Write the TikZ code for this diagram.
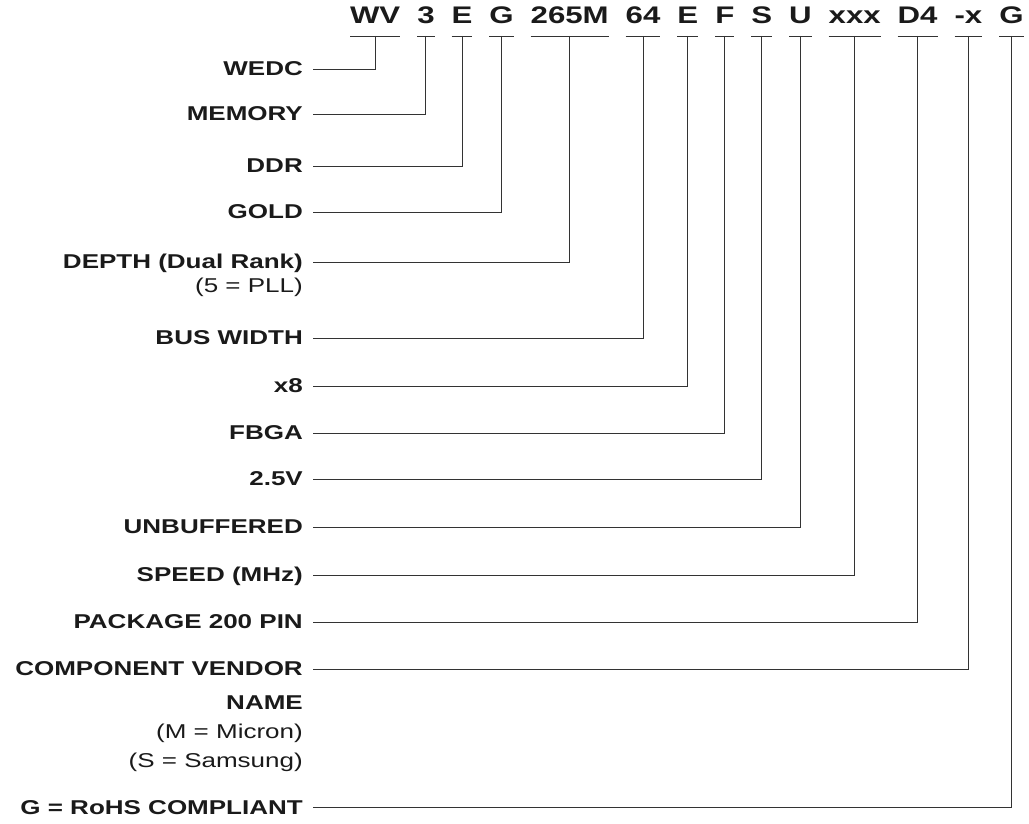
\documentclass[tikz,border=0pt]{standalone}
\usepackage{fontspec}
\setmainfont{Liberation Sans}[FakeStretch=1.3]
\usepackage{tikz}
\usetikzlibrary{positioning}
\definecolor{ink}{HTML}{1A1A1A}
\definecolor{wire}{HTML}{333333}

\begin{document}
\begin{tikzpicture}[
  x=1pt,y=1pt,
  node distance=17pt,
  code/.style={font=\fontsize{24}{28}\selectfont\bfseries,text=ink,inner xsep=0pt,inner ysep=12pt,outer sep=0pt,text height=17pt,text depth=0pt},
  field/.style={font=\fontsize{20}{24}\selectfont\bfseries,text=ink,anchor=east,inner xsep=10pt,inner ysep=0pt,text height=14pt,text depth=0pt},
  note/.style={font=\fontsize{20}{29}\selectfont,text=ink,align=right,inner xsep=10pt,inner ysep=0pt},
  link/.style={draw=wire,line width=0.9pt}
]
\useasboundingbox (0,0) rectangle (1029,823);
% part number
\node[code,anchor=base west] (wv) at (350,799) {WV};
\node[code,right=of wv] (three) {3};
\node[code,right=of three] (ecode) {E};
\node[code,right=of ecode] (gcode) {G};
\node[code,right=of gcode] (m265) {265M};
\node[code,right=of m265] (sixfour) {64};
\node[code,right=of sixfour] (eight) {E};
\node[code,right=of eight] (fcode) {F};
\node[code,right=of fcode] (scode) {S};
\node[code,right=of scode] (ucode) {U};
\node[code,right=of ucode] (xxx) {xxx};
\node[code,right=of xxx] (dfour) {D4};
\node[code,right=of dfour] (dashx) {-x};
\node[code,right=of dashx] (rohscode) {G};
% field names
\node[field] (wedc) at (313,754) {WEDC};
\node[field] (memory) at (313,709) {MEMORY};
\node[field] (ddr) at (313,657) {DDR};
\node[field] (gold) at (313,611) {GOLD};
\node[field] (depth) at (313,561) {DEPTH (Dual Rank)};
\node[note,below=9pt of depth.south east,anchor=north east] (pll) {(5 = PLL)};
\node[field] (buswidth) at (313,485) {BUS WIDTH};
\node[field] (xeight) at (313,437) {x8};
\node[field] (fbga) at (313,390) {FBGA};
\node[field] (volts) at (313,344) {2.5V};
\node[field] (unbuffered) at (313,296) {UNBUFFERED};
\node[field] (speed) at (313,248) {SPEED (MHz)};
\node[field] (package) at (313,201) {PACKAGE 200 PIN};
\node[field] (vendor) at (313,154) {COMPONENT VENDOR};
\node[note,below=19pt of vendor.south east,anchor=north east] (vendornote) {\textbf{NAME}\\(M = Micron)\\(S = Samsung)};
\node[field] (rohs) at (313,16) {G = RoHS COMPLIANT};
% leaders
\draw[link] (wv.south west)--(wv.south east) (wv.south) |- (wedc.east);
\draw[link] (three.south west)--(three.south east) (three.south) |- (memory.east);
\draw[link] (ecode.south west)--(ecode.south east) (ecode.south) |- (ddr.east);
\draw[link] (gcode.south west)--(gcode.south east) (gcode.south) |- (gold.east);
\draw[link] (m265.south west)--(m265.south east) (m265.south) |- (depth.east);
\draw[link] (sixfour.south west)--(sixfour.south east) (sixfour.south) |- (buswidth.east);
\draw[link] (eight.south west)--(eight.south east) (eight.south) |- (xeight.east);
\draw[link] (fcode.south west)--(fcode.south east) (fcode.south) |- (fbga.east);
\draw[link] (scode.south west)--(scode.south east) (scode.south) |- (volts.east);
\draw[link] (ucode.south west)--(ucode.south east) (ucode.south) |- (unbuffered.east);
\draw[link] (xxx.south west)--(xxx.south east) (xxx.south) |- (speed.east);
\draw[link] (dfour.south west)--(dfour.south east) (dfour.south) |- (package.east);
\draw[link] (dashx.south west)--(dashx.south east) (dashx.south) |- (vendor.east);
\draw[link] (rohscode.south west)--(rohscode.south east) (rohscode.south) |- (rohs.east);
\end{tikzpicture}
\end{document}
